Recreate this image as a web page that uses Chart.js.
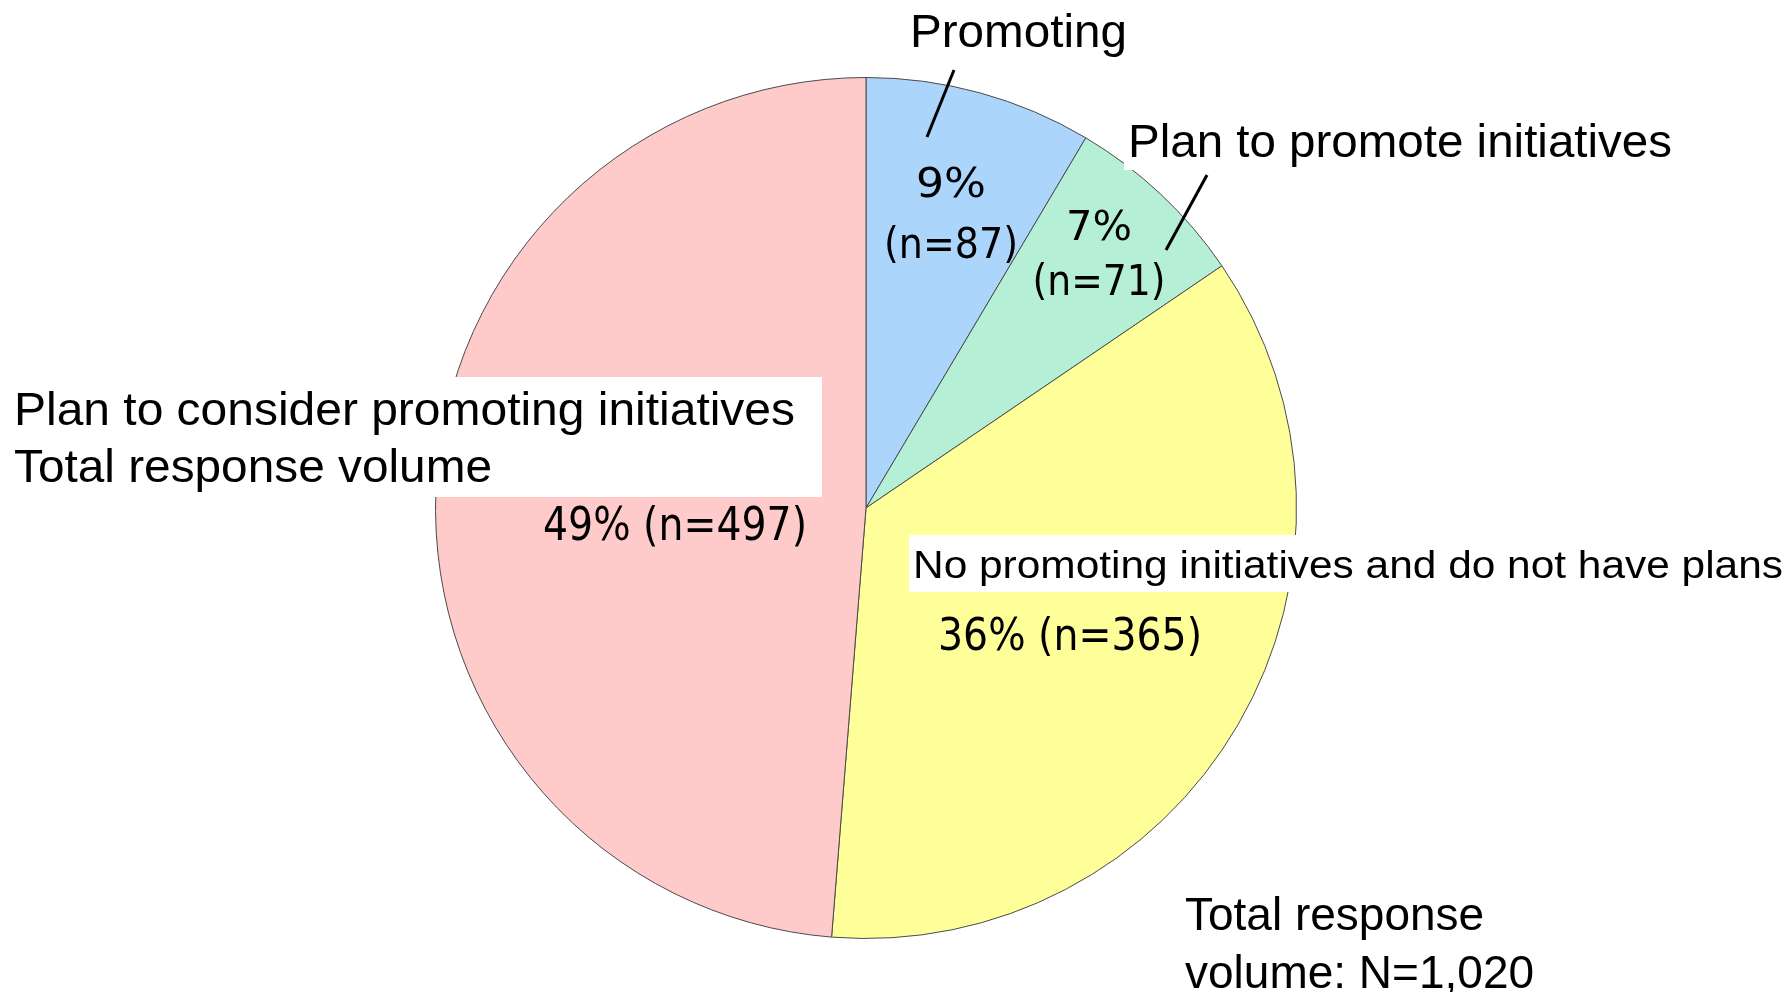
<!DOCTYPE html>
<html>
<head>
<meta charset="utf-8">
<script src="https://cdn.jsdelivr.net/npm/chart.js@4.4.1/dist/chart.umd.min.js"></script>
<style>
  html, body { margin: 0; padding: 0; background: #fff; }
  #wrap { width: 1790px; height: 992px; }
</style>
</head>
<body>
<div id="wrap"><canvas id="pie" width="1790" height="992"></canvas></div>
<script>
// survey answers, clockwise from 12 o'clock
const categories = [
  'Promoting',
  'Plan to promote initiatives',
  'No promoting initiatives and do not have plans',
  'Plan to consider promoting initiatives'
];
const counts = [87, 71, 365, 497];
const sliceColors = ['#acd5fc', '#b5f0d6', '#ffff99', '#fecaca'];

const total = counts.reduce((a, b) => a + b, 0);
const pct = counts.map(c => Math.round(c / total * 100));

const LATIN = '"Liberation Sans", Arial, sans-serif';
const NUM = '"DejaVu Sans", sans-serif';

// text placement for the callouts (category names sit outside / on white boxes)
const nameLayout = [
  { x: 910, base: [47], size: 46, widths: [217], leader: [[954, 70], [927, 137]] },
  { x: 1128, base: [157], size: 46, widths: [544], box: [1124, 112, 560, 58], leader: [[1207, 175], [1166, 250]] },
  { x: 913, base: [578], size: 38, widths: [870], box: [909, 535, 890, 57] },
  { x: 14, base: [425, 482], size: 46, widths: [781, 478], box: [4, 377, 818, 120], extra: 'Total response volume' }
];
const valueLayout = [
  { cx: 951, base: [197, 258], size: [40, 42], widths: [70, 134], split: true },
  { cx: 1099, base: [240, 295], size: [40, 42], widths: [66, 133], split: true },
  { cx: 1070, base: [650], size: [44], widths: [264] },
  { cx: 675, base: [540], size: [47], widths: [264] }
];

// draw a string squeezed/stretched to a given width, left edge at x
function fitText(ctx, text, x, y, font, width) {
  ctx.font = font;
  const w = ctx.measureText(text).width;
  ctx.save();
  ctx.translate(x, y);
  ctx.scale(width / w, 1);
  ctx.textAlign = 'left';
  ctx.textBaseline = 'alphabetic';
  ctx.fillText(text, 0, 0);
  ctx.restore();
}

const calloutPlugin = {
  id: 'callouts',
  afterDraw(chart) {
    const ctx = chart.ctx;
    ctx.save();
    ctx.fillStyle = '#000';

    categories.forEach((name, i) => {
      const L = nameLayout[i];
      if (L.box) {
        ctx.fillStyle = '#fff';
        ctx.fillRect(L.box[0], L.box[1], L.box[2], L.box[3]);
        ctx.fillStyle = '#000';
      }
      const lines = L.extra ? [name, L.extra] : [name];
      lines.forEach((t, k) => {
        fitText(ctx, t, L.x, L.base[k], `${L.size}px ${LATIN}`, L.widths[k]);
      });
      if (L.leader) {
        ctx.beginPath();
        ctx.strokeStyle = '#000';
        ctx.lineWidth = 3;
        ctx.moveTo(L.leader[0][0], L.leader[0][1]);
        ctx.lineTo(L.leader[1][0], L.leader[1][1]);
        ctx.stroke();
      }
    });

    counts.forEach((c, i) => {
      const V = valueLayout[i];
      const lines = V.split ? [`${pct[i]}%`, `(n=${c})`] : [`${pct[i]}% (n=${c})`];
      lines.forEach((t, k) => {
        fitText(ctx, t, V.cx - V.widths[k] / 2, V.base[k], `${V.size[k]}px ${NUM}`, V.widths[k]);
      });
    });

    // sample size note
    ctx.font = `46px ${LATIN}`;
    ctx.textAlign = 'left';
    ctx.textBaseline = 'alphabetic';
    ctx.fillText('Total response', 1185, 930);
    ctx.fillText(`volume: N=${total.toLocaleString('en-US')}`, 1185, 988);
    ctx.restore();
  }
};

new Chart(document.getElementById('pie'), {
  type: 'pie',
  data: {
    labels: categories,
    datasets: [{
      data: counts,
      backgroundColor: sliceColors,
      borderColor: '#4a4a4a',
      borderWidth: 1
    }]
  },
  options: {
    responsive: false,
    animation: false,
    layout: { padding: { left: 435, right: 493, top: 77, bottom: 53 } },
    plugins: {
      legend: { display: false },
      tooltip: { enabled: false }
    }
  },
  plugins: [calloutPlugin]
});
</script>
</body>
</html>
